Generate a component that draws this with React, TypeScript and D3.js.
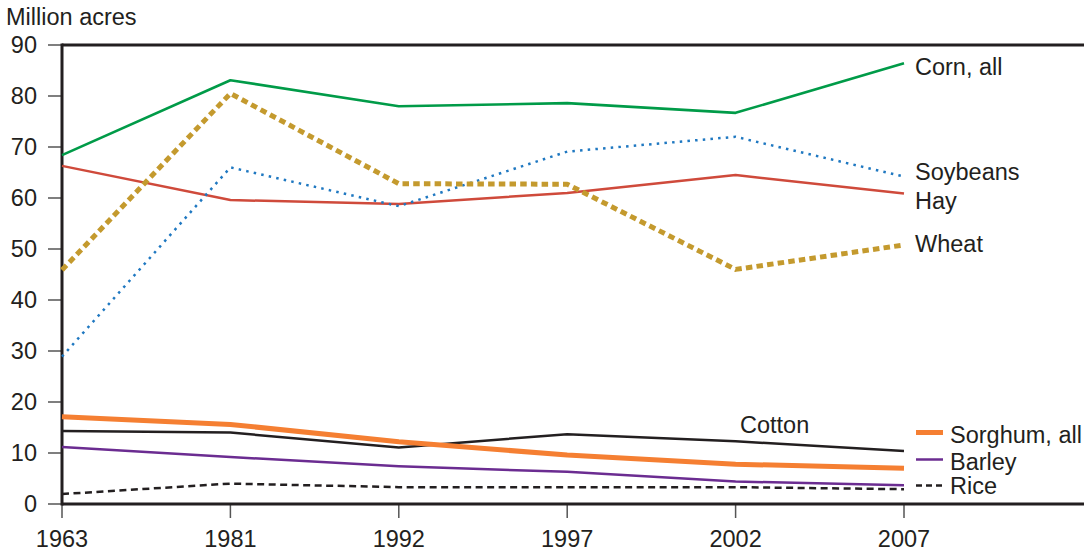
import React from "react";
import * as d3 from "d3";

const years = ["1963", "1981", "1992", "1997", "2002", "2007"];
const yTicks = [0, 10, 20, 30, 40, 50, 60, 70, 80, 90];

const corn = [68.4, 83.1, 78.0, 78.6, 76.7, 86.4];
const wheat = [45.9, 80.5, 62.8, 62.7, 46.0, 50.8];
const soybeans = [28.9, 66.0, 58.4, 69.1, 72.0, 64.2];
const hay = [66.3, 59.6, 58.8, 61.0, 64.5, 60.9];
const sorghum = [17.1, 15.6, 12.2, 9.6, 7.8, 7.0];
const cotton = [14.3, 14.0, 11.1, 13.7, 12.3, 10.4];
const barley = [11.2, 9.2, 7.4, 6.3, 4.4, 3.7];
const rice = [1.95, 4.0, 3.3, 3.3, 3.3, 2.9];

type Series = {
  name: string;
  values: number[];
  color: string;
  width: number;
  dash?: string;
};

const series: Series[] = [
  { name: "Rice", values: rice, color: "#231F20", width: 2.5, dash: "7 4.5" },
  { name: "Barley", values: barley, color: "#6B2C91", width: 2.5 },
  { name: "Cotton", values: cotton, color: "#231F20", width: 2.5 },
  { name: "Sorghum, all", values: sorghum, color: "#F57F32", width: 5 },
  { name: "Hay", values: hay, color: "#CF4A3B", width: 2.5 },
  { name: "Soybeans", values: soybeans, color: "#1F78C1", width: 2.5, dash: "2.5 5.2" },
  { name: "Wheat", values: wheat, color: "#C49A2E", width: 5, dash: "6.5 4.2" },
  { name: "Corn, all", values: corn, color: "#009B48", width: 2.6 },
];

const W = 1084;
const H = 552;
const left = 62;
const top = 45;
const bottom = 504;
const font = "'Liberation Sans', Arial, Helvetica, sans-serif";
const fs = 23.5;

export default function App() {
  const x = d3.scalePoint<string>().domain(years).range([left, 904]);
  const y = d3.scaleLinear().domain([0, 90]).range([bottom, top]);
  const line = d3
    .line<number>()
    .x((_, i) => x(years[i]) as number)
    .y((d) => y(d));

  const textColor = "#231F20";

  const rightLabels = [
    { text: "Corn, all", x: 915, y: 75 },
    { text: "Soybeans", x: 915, y: 179.5 },
    { text: "Hay", x: 915, y: 208.5 },
    { text: "Wheat", x: 915, y: 251.5 },
    { text: "Cotton", x: 740, y: 433 },
  ];

  const legend = [
    { s: series[3], y: 432.5, ty: 443 },
    { s: series[1], y: 459.5, ty: 469.5 },
    { s: series[0], y: 485.5, ty: 493.5 },
  ];

  return (
    <svg
      width={W}
      height={H}
      style={{ position: "absolute", left: 0, top: 0, background: "#fff" }}
      fontFamily={font}
    >
      <text x={6} y={25} fontSize={fs} fill={textColor}>
        Million acres
      </text>

      {yTicks.map((t) => (
        <g key={t}>
          <line x1={48} x2={left} y1={y(t)} y2={y(t)} stroke="#555" strokeWidth={1.5} />
          <text
            x={37}
            y={y(t)}
            dy="0.36em"
            textAnchor="end"
            fontSize={fs}
            fill={textColor}
          >
            {t}
          </text>
        </g>
      ))}

      {years.map((yr) => (
        <g key={yr}>
          <line
            x1={x(yr)}
            x2={x(yr)}
            y1={bottom}
            y2={518}
            stroke="#555"
            strokeWidth={1.5}
          />
          <text x={x(yr)} y={547} textAnchor="middle" fontSize={fs} fill={textColor}>
            {yr}
          </text>
        </g>
      ))}

      <line x1={left} x2={W} y1={top} y2={top} stroke="#231F20" strokeWidth={3} />
      <line x1={left} x2={W} y1={bottom} y2={bottom} stroke="#231F20" strokeWidth={3} />
      <line x1={left} x2={left} y1={top - 1.5} y2={bottom + 1.5} stroke="#231F20" strokeWidth={3} />

      {series.map((s) => (
        <path
          key={s.name}
          d={line(s.values) || ""}
          fill="none"
          stroke={s.color}
          strokeWidth={s.width}
          strokeDasharray={s.dash}
          strokeLinejoin="round"
        />
      ))}

      {rightLabels.map((l) => (
        <text key={l.text} x={l.x} y={l.y} fontSize={fs} fill={textColor}>
          {l.text}
        </text>
      ))}

      {legend.map((l) => (
        <g key={l.s.name}>
          <line
            x1={916}
            x2={943}
            y1={l.y}
            y2={l.y}
            stroke={l.s.color}
            strokeWidth={l.s.width}
            strokeDasharray={l.s.name === "Rice" ? "6 4" : undefined}
          />
          <text x={950} y={l.ty} fontSize={fs} fill={textColor}>
            {l.s.name}
          </text>
        </g>
      ))}
    </svg>
  );
}
